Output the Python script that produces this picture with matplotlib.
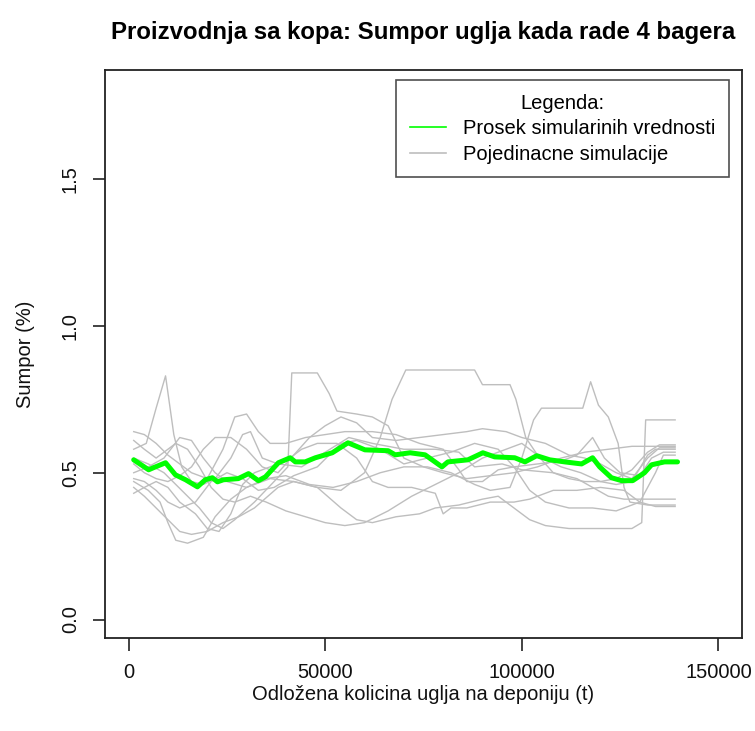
import matplotlib
matplotlib.use("Agg")
import matplotlib.pyplot as plt
from matplotlib.lines import Line2D

plt.rcParams['font.family'] = ['Liberation Sans', 'DejaVu Sans']

# odlozena kolicina (t) i sumpor (%) za svaku simulaciju
sim1_x = [1300, 4500, 7000, 9400, 11500, 13500, 16000, 19000, 22000, 26000, 29000, 31000, 34000, 38000, 44000,
          50000, 56000, 62000, 70000, 78000, 84000, 88000, 95000, 100000, 108000, 114000, 118000, 122000, 126000, 139000]
sim1_y = [0.58, 0.60, 0.72, 0.83, 0.63, 0.52, 0.47, 0.46, 0.48, 0.55, 0.63, 0.64, 0.55, 0.53, 0.52,
          0.57, 0.62, 0.60, 0.58, 0.58, 0.57, 0.52, 0.53, 0.51, 0.50, 0.48, 0.45, 0.42, 0.41, 0.41]

sim2_x = [1300, 5000, 9000, 12000, 15000, 18000, 21000, 24000, 27000, 32000, 37000, 40500, 41500, 48000, 51000, 53000,
          58000, 62000, 66000, 70000, 75000, 80000, 86000, 92000, 98000, 104000, 110000, 116000, 122000, 128000, 139000]
sim2_y = [0.55, 0.53, 0.50, 0.46, 0.42, 0.38, 0.33, 0.31, 0.34, 0.40, 0.47, 0.52, 0.84, 0.84, 0.77, 0.71,
          0.70, 0.69, 0.66, 0.55, 0.52, 0.50, 0.48, 0.49, 0.50, 0.52, 0.55, 0.57, 0.58, 0.59, 0.59]

sim3_x = [1300, 5000, 8000, 10000, 12000, 15000, 19000, 22000, 26000, 30000, 36000, 42000, 48000, 54000, 60000, 64000,
          67000, 70500, 88000, 90000, 97000, 98500, 101000, 104000, 110000, 115000, 120000, 124000, 128000, 132000,
          134000, 139000]
sim3_y = [0.47, 0.44, 0.40, 0.33, 0.27, 0.26, 0.28, 0.35, 0.41, 0.45, 0.48, 0.47, 0.45, 0.44, 0.50, 0.62,
          0.75, 0.85, 0.85, 0.80, 0.80, 0.75, 0.62, 0.56, 0.52, 0.50, 0.47, 0.46, 0.47, 0.56,
          0.58, 0.58]

sim4_x = [1300, 5000, 9000, 13000, 16000, 19000, 22000, 25000, 30000, 35000, 40000, 46000, 52000, 58000, 64000, 70000,
          76000, 82000, 88000, 92000, 97000, 100000, 103000, 105000, 115500, 117500, 119500, 122000, 124500, 126000,
          127500, 132000, 139000]
sim4_y = [0.50, 0.52, 0.55, 0.62, 0.61, 0.55, 0.50, 0.47, 0.45, 0.48, 0.49, 0.46, 0.45, 0.47, 0.50, 0.52,
          0.52, 0.50, 0.46, 0.44, 0.45, 0.55, 0.68, 0.72, 0.72, 0.81, 0.73, 0.69, 0.60, 0.45,
          0.40, 0.39, 0.39]

sim5_x = [1300, 4000, 7000, 10000, 13000, 16000, 20000, 24000, 28000, 32000, 38000, 42000, 48000, 54000, 58000, 62000,
          68000, 74000, 78000, 84000, 90000, 94000, 98000, 102000, 106000, 112000, 120000, 128000, 130500, 131500, 139000]
sim5_y = [0.45, 0.42, 0.38, 0.34, 0.30, 0.29, 0.30, 0.33, 0.35, 0.38, 0.45, 0.47, 0.45, 0.38, 0.34, 0.33,
          0.35, 0.36, 0.38, 0.39, 0.41, 0.42, 0.38, 0.34, 0.32, 0.31, 0.31, 0.31, 0.33, 0.68, 0.68]

sim6_x = [1300, 4000, 7000, 10000, 13000, 16000, 20000, 24000, 27000, 30000, 33000, 36000, 40000, 45000, 50000, 55000,
          62000, 68000, 74000, 80000, 84000, 86000, 90000, 94000, 98000, 104000, 110000, 114000, 118000, 121000,
          125000, 130000, 133000, 136000, 139000]
sim6_y = [0.64, 0.63, 0.60, 0.56, 0.53, 0.50, 0.48, 0.58, 0.69, 0.70, 0.64, 0.60, 0.60, 0.62, 0.63, 0.64,
          0.64, 0.63, 0.60, 0.58, 0.51, 0.47, 0.47, 0.51, 0.52, 0.53, 0.54, 0.56, 0.62, 0.55,
          0.50, 0.49, 0.55, 0.57, 0.57]

sim7_x = [1300, 4000, 7000, 10000, 13000, 17000, 20000, 23000, 26000, 29000, 32000, 36000, 40000, 44000, 48000, 53000,
          58000, 62000, 66000, 72000, 78000, 80000, 82000, 86000, 92000, 98000, 102000, 108000, 114000, 120000,
          126000, 130000, 134000, 139000]
sim7_y = [0.43, 0.45, 0.47, 0.45, 0.40, 0.36, 0.31, 0.30, 0.36, 0.46, 0.50, 0.52, 0.54, 0.58, 0.60, 0.60,
          0.55, 0.47, 0.45, 0.45, 0.43, 0.36, 0.38, 0.38, 0.40, 0.40, 0.41, 0.44, 0.44, 0.45,
          0.44, 0.40, 0.385, 0.385]

sim8_x = [1300, 4000, 7000, 9000, 12000, 15000, 18000, 21000, 24000, 27000, 31000, 35000, 40000, 45000, 50000, 55000,
          60000, 66000, 72000, 78000, 84000, 90000, 96000, 100000, 104000, 108000, 112000, 116000, 120000, 124000,
          128000, 132000, 135000, 139000]
sim8_y = [0.61, 0.58, 0.55, 0.57, 0.60, 0.58, 0.52, 0.45, 0.41, 0.40, 0.42, 0.40, 0.37, 0.35, 0.33, 0.32,
          0.33, 0.37, 0.42, 0.46, 0.50, 0.55, 0.58, 0.60, 0.56, 0.50, 0.48, 0.47, 0.47, 0.48,
          0.51, 0.57, 0.595, 0.595]

sim9_x = [1300, 4000, 7000, 10000, 13000, 16000, 19000, 22000, 26000, 30000, 34000, 38000, 42000, 46000, 50000, 54000,
          58000, 62000, 68000, 74000, 80000, 86000, 90000, 96000, 100000, 106000, 112000, 116000, 120000, 124000,
          128000, 132000, 135000, 139000]
sim9_y = [0.53, 0.50, 0.48, 0.47, 0.49, 0.52, 0.58, 0.62, 0.62, 0.58, 0.52, 0.50, 0.56, 0.62, 0.66, 0.69,
          0.67, 0.62, 0.61, 0.62, 0.63, 0.64, 0.65, 0.64, 0.62, 0.60, 0.56, 0.55, 0.53, 0.50,
          0.48, 0.55, 0.585, 0.585]

sim10_x = [1300, 4000, 7000, 10000, 13000, 17000, 21000, 25000, 29000, 33000, 37000, 42000, 48000, 54000, 58000, 64000,
           70000, 76000, 82000, 88000, 94000, 98000, 102000, 106000, 112000, 118000, 124000, 130000, 134000, 136000,
           139000]
sim10_y = [0.48, 0.47, 0.44, 0.40, 0.38, 0.40, 0.47, 0.50, 0.48, 0.44, 0.45, 0.49, 0.52, 0.60, 0.61, 0.58,
           0.53, 0.55, 0.57, 0.60, 0.58, 0.52, 0.44, 0.40, 0.38, 0.38, 0.37, 0.40, 0.50, 0.56,
           0.56]

# prosek simuliranih vrednosti
mean_x = [1300, 5100, 6300, 9400, 11900, 14500, 17500, 19500, 21300, 22600, 24100, 27900, 30500, 33000, 34800,
          38100, 41100, 42400, 44900, 47500, 51800, 55800, 60100, 66000, 67800, 71600, 75400, 79700, 81200, 86300,
          90100, 93100, 98200, 100800, 103800, 107100, 110900, 115200, 118000, 119800, 122800, 125400, 128200,
          131200, 133000, 136300, 139600]
mean_y = [0.544, 0.51, 0.517, 0.534, 0.493, 0.476, 0.452, 0.476, 0.483, 0.469, 0.476, 0.48, 0.497, 0.473, 0.486,
          0.534, 0.551, 0.537, 0.537, 0.551, 0.568, 0.602, 0.578, 0.575, 0.561, 0.568, 0.561, 0.52, 0.537, 0.544,
          0.568, 0.554, 0.551, 0.537, 0.558, 0.544, 0.537, 0.53, 0.551, 0.52, 0.483, 0.473, 0.473,
          0.50, 0.527, 0.537, 0.537]

sims = [(sim1_x, sim1_y), (sim2_x, sim2_y), (sim3_x, sim3_y), (sim4_x, sim4_y), (sim5_x, sim5_y),
        (sim6_x, sim6_y), (sim7_x, sim7_y), (sim8_x, sim8_y), (sim9_x, sim9_y), (sim10_x, sim10_y)]

fig = plt.figure(figsize=(7.55, 7.31), dpi=100)
ax = fig.add_axes([105 / 755, 1 - 638 / 731, 637 / 755, 568 / 731])

for sx, sy in sims:
    ax.plot(sx, sy, color="#BEBEBE", lw=1.0)
ax.plot(mean_x, mean_y, color="#00FF00", lw=3.6, solid_capstyle="round")

ax.set_xlim(-6000, 156000)
ax.set_ylim(-0.063, 1.872)
ax.set_xticks([0, 50000, 100000, 150000])
ax.set_xticklabels(["0", "50000", "100000", "150000"])
ax.set_yticks([0.0, 0.5, 1.0, 1.5])
ax.set_yticklabels(["0.0", "0.5", "1.0", "1.5"], rotation=90, va="center")

for s in ax.spines.values():
    s.set_linewidth(1.3)
    s.set_color("#222222")
ax.tick_params(length=9, width=1.2, color="#222222", labelsize=14.5, colors="#111111")
ax.tick_params(axis="x", pad=9)
ax.tick_params(axis="y", pad=9)

ax.set_xlabel("Odložena kolicina uglja na deponiju (t)", fontsize=14.5, labelpad=2, color="#111111")
ax.set_ylabel("Sumpor (%)", fontsize=14.5, labelpad=19, color="#111111")
ax.set_title("Proizvodnja sa kopa: Sumpor uglja kada rade 4 bagera", fontsize=17.3,
             fontweight="bold", pad=22)

handles = [Line2D([], [], color="#00FF00", lw=1.2), Line2D([], [], color="#BEBEBE", lw=1.2)]
leg = ax.legend(handles, ["Prosek simularinih vrednosti", "Pojedinacne simulacije"],
                title="Legenda:", fontsize=14.5, title_fontsize=14.5,
                loc="upper right", bbox_to_anchor=(729 / 755, 1 - 80 / 731),
                bbox_transform=fig.transFigure, borderaxespad=0, fancybox=False,
                handlelength=1.8, handletextpad=0.85, labelspacing=0.32, borderpad=0.68)
leg.get_frame().set_edgecolor("#222222")
leg.get_frame().set_linewidth(1.2)

fig.savefig("out.png", dpi=100)
